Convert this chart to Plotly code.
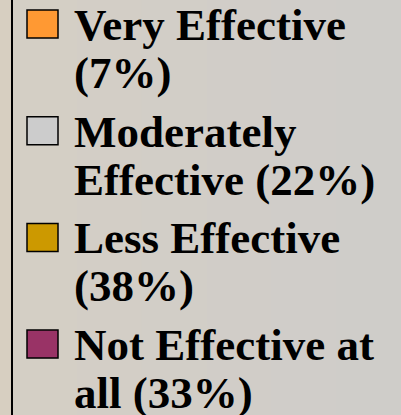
import plotly.graph_objects as go

# ---- data ----
labels = ["Very Effective", "Moderately Effective", "Less Effective", "Not Effective at all"]
percents = [7, 22, 38, 33]
colors = ["#FF9933", "#CCCCCC", "#CC9900", "#993366"]
wrap_after_words = [2, 1, 2, 3]   # where each legend entry wraps onto its second line

# ---- layout constants ----
W, H = 401, 415
FONT = "Liberation Serif, Times New Roman, serif"
FSIZE = 45
first_baseline = 40
item_step = 106.7
line_step = 48
text_x = 72
box_x0, box_x1 = 27, 58

fig = go.Figure()
shapes = []
annotations = []

# background: beige strip at left, slightly grey gradient area on right
shapes.append(dict(type="rect", xref="x", yref="y", x0=0, x1=12, y0=0, y1=H,
                   fillcolor="#d7cfc1", line_width=0, layer="below"))
grad = ["#d4cfc5", "#d3cec6", "#d2cec7", "#d1cdc8", "#d0cdc9", "#cfcdc9"]
n = len(grad)
for i, c in enumerate(grad):
    shapes.append(dict(type="rect", xref="x", yref="y",
                       x0=12 + (W - 12) * i / n, x1=12 + (W - 12) * (i + 1) / n + 1,
                       y0=0, y1=H, fillcolor=c, line_width=0, layer="below"))
# legend frame left edge
shapes.append(dict(type="line", xref="x", yref="y", x0=12, x1=12, y0=0, y1=H,
                   line=dict(color="black", width=2)))

for i, (lab, pct, col, k) in enumerate(zip(labels, percents, colors, wrap_after_words)):
    words = f"{lab} ({pct}%)".split(" ")
    lines = [" ".join(words[:k]), " ".join(words[k:])]
    base = first_baseline + i * item_step
    shapes.append(dict(type="rect", xref="x", yref="y", x0=box_x0, x1=box_x1,
                       y0=base - 30, y1=base - 2, fillcolor=col,
                       line=dict(color="black", width=1.5)))
    for j, ln in enumerate(lines):
        b = base + j * line_step
        annotations.append(dict(x=text_x, y=b - 15, xref="x", yref="y",
                                text=f"<b>{ln}</b>", showarrow=False,
                                xanchor="left", yanchor="middle",
                                font=dict(family=FONT, size=FSIZE, color="black")))

fig.update_layout(
    width=W, height=H, margin=dict(l=0, r=0, t=0, b=0),
    paper_bgcolor="#d2cec7", plot_bgcolor="#d2cec7",
    xaxis=dict(range=[0, W], visible=False, fixedrange=True),
    yaxis=dict(range=[H, 0], visible=False, fixedrange=True),
    shapes=shapes, annotations=annotations, showlegend=False,
)
fig.write_html("out.html", config={"displayModeBar": False},
               post_script="document.body.style.margin='0';document.body.style.overflow='hidden';")
